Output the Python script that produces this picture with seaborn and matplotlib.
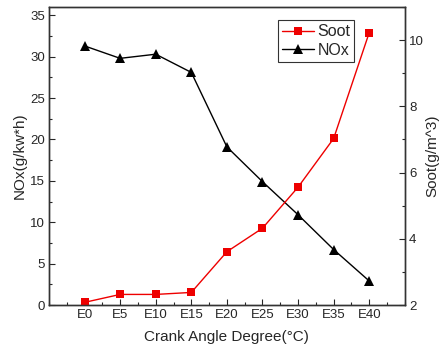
import pandas as pd
import matplotlib.pyplot as plt
import seaborn as sns
from matplotlib.ticker import MultipleLocator

# podaci ocitani sa grafika
angles = ['E0', 'E5', 'E10', 'E15', 'E20', 'E25', 'E30', 'E35', 'E40']
nox = [31.3, 29.8, 30.3, 28.1, 19.1, 14.9, 10.9, 6.7, 2.9]
soot = [2.08, 2.32, 2.32, 2.38, 3.61, 4.32, 5.56, 7.03, 10.23]

sns.set_theme(style='ticks')
plt.rcParams['font.family'] = ['Liberation Sans', 'DejaVu Sans']

data = pd.DataFrame({'angle': angles, 'pos': range(len(angles)), 'nox': nox, 'soot': soot})

fig = plt.figure(figsize=(4.41, 3.51), dpi=100)
ax = fig.add_axes([0.111, 0.131, 0.807, 0.849])
ax2 = ax.twinx()

sns.lineplot(data=data, x='pos', y='soot', ax=ax2, color='#ee0000', marker='s',
             markersize=6, markeredgewidth=0, linewidth=1, label='Soot', legend=False)
sns.lineplot(data=data, x='pos', y='nox', ax=ax, color='black', marker='^',
             markersize=7, markeredgewidth=0, linewidth=1, label='NOx', legend=False)

ax.set_xlim(-1, 9)
ax.set_ylim(0, 36)
ax2.set_ylim(2, 11)
ax.set_xticks(data['pos'])
ax.set_xticklabels(angles)
ax.xaxis.set_minor_locator(MultipleLocator(0.5))
ax.yaxis.set_major_locator(MultipleLocator(5))
ax.yaxis.set_minor_locator(MultipleLocator(2.5))
ax2.yaxis.set_major_locator(MultipleLocator(2))
ax2.yaxis.set_minor_locator(MultipleLocator(1))

for a in (ax, ax2):
    a.tick_params(which='both', direction='in', labelsize=9.5, pad=3)
    a.tick_params(which='major', length=4, width=0.8)
    a.tick_params(which='minor', length=2, width=0.8)
    for s in a.spines.values():
        s.set_visible(True)
        s.set_linewidth(1)
        s.set_color('#333333')

ax.set_xlabel('Crank Angle Degree(°C)', fontsize=11, labelpad=6)
ax.set_ylabel('NOx(g/kw*h)', fontsize=11, labelpad=2)
ax2.set_ylabel('Soot(g/m^3)', fontsize=11, labelpad=1)

# zajednicka legenda za obe ose
h1, l1 = ax2.get_legend_handles_labels()
h2, l2 = ax.get_legend_handles_labels()
leg = ax2.legend(h1 + h2, l1 + l2, loc='upper right', bbox_to_anchor=(0.858, 0.955),
                 fontsize=11.5, frameon=True, fancybox=False, handlelength=2.0,
                 borderpad=0.25, labelspacing=0.2, handletextpad=0.2, borderaxespad=0)
leg.get_frame().set_edgecolor('black')
leg.get_frame().set_linewidth(0.8)

fig.savefig('out.png', dpi=100)
